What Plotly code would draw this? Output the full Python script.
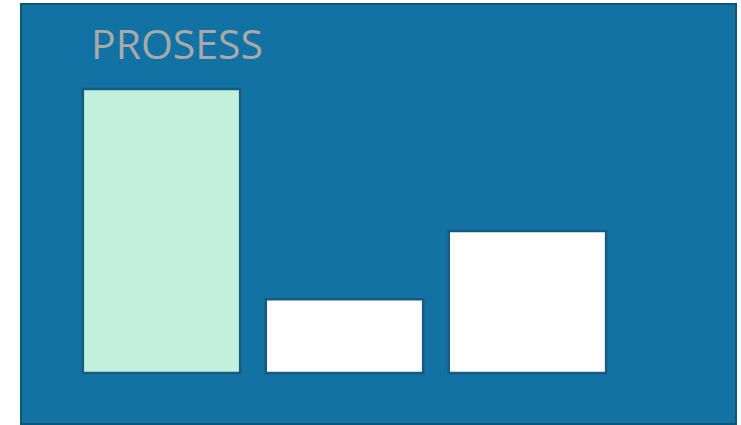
import plotly.graph_objects as go

categories = ["A", "B", "C"]
values = [100, 26, 50]
bar_colors = ["#C3F0DD", "#FFFFFF", "#FFFFFF"]
title_text = "PROSESS"

fig = go.Figure()
fig.add_trace(go.Bar(
    x=categories,
    y=values,
    width=0.86,
    marker=dict(color=bar_colors, line=dict(color="#165C80", width=2.5)),
    hoverinfo="skip",
))

fig.add_shape(type="rect", xref="paper", yref="paper", x0=0, y0=0, x1=1, y1=1,
              line=dict(color="#0E5676", width=2), fillcolor="rgba(0,0,0,0)", layer="above")

fig.add_annotation(text=title_text, xref="paper", yref="paper", x=0.0951, y=0.907,
                   xanchor="left", yanchor="middle", showarrow=False,
                   font=dict(family="Open Sans", size=41, color="#A9A9A9"))

fig.update_layout(
    width=741, height=425,
    margin=dict(l=21, r=5, t=4, b=1),
    paper_bgcolor="white",
    plot_bgcolor="#1172A3",
    showlegend=False,
    xaxis=dict(type="category", range=[-0.768, 3.14], showgrid=False, zeroline=False,
               showticklabels=False, showline=False, fixedrange=True),
    yaxis=dict(range=[-17.96, 129.9], showgrid=False, zeroline=False,
               showticklabels=False, showline=False, fixedrange=True),
)

fig.write_html("out.html", config={"displayModeBar": False},
               post_script="document.body.style.margin='0';document.body.style.overflow='hidden';")
